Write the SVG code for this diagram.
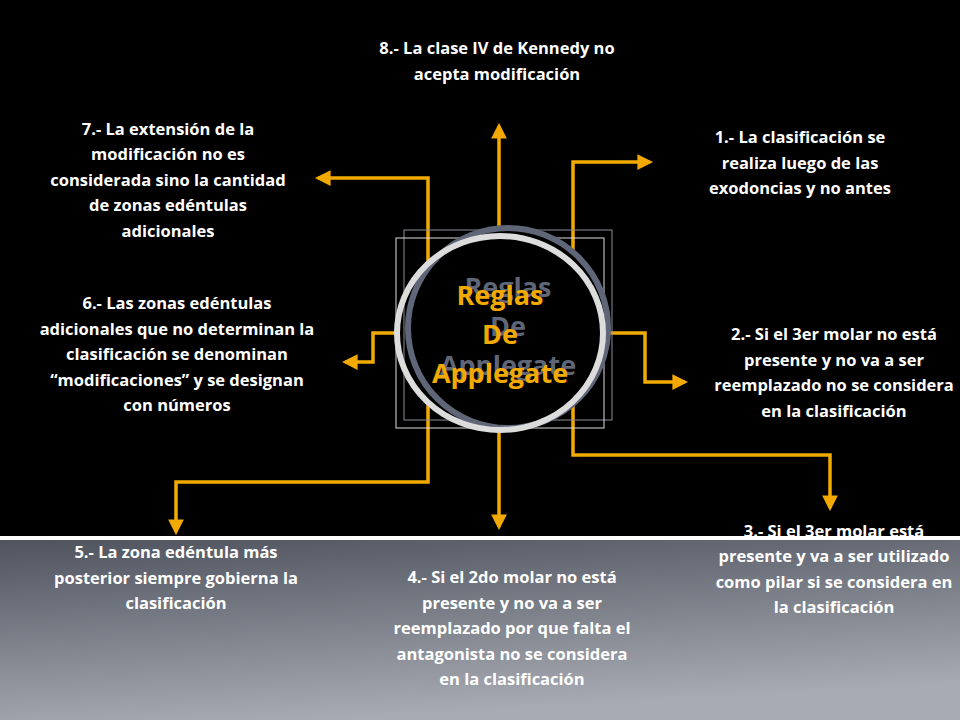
<svg xmlns="http://www.w3.org/2000/svg" width="960" height="720" viewBox="0 0 960 720">
<defs>
<linearGradient id="bg" x1="0" y1="0" x2="0.3" y2="1"><stop offset="0" stop-color="#4e535e"/><stop offset="1" stop-color="#a7aab2"/></linearGradient>
<marker id="ar" viewBox="0 0 10 10" refX="8" refY="5" markerWidth="4.5" markerHeight="4.5" orient="auto"><path d="M0,0L10,5L0,10z" fill="#f2aa00"/></marker>
</defs>
<style>
.c{fill:none;stroke:#f2aa00;stroke-width:3.5;marker-end:url(#ar)}
.t{font-family:"Open Sans","Liberation Sans",sans-serif;font-weight:bold;font-size:16.5px;fill:#fff;text-anchor:middle}
.h{font-family:"Open Sans","Liberation Sans",sans-serif;font-weight:bold;font-size:27px;text-anchor:middle}
</style>
<rect width="960" height="720" fill="#000"/>
<rect y="539" width="960" height="181" fill="url(#bg)"/>
<rect y="536" width="960" height="4" fill="#fff"/>
<g id="connectors">
<path class="c" d="M499,226V126"/>
<path class="c" d="M573,262V162H650"/>
<path class="c" d="M428,262V178H318"/>
<path class="c" d="M396,333H373V362H345"/>
<path class="c" d="M604,333H645V382H685"/>
<path class="c" d="M573,405V455H830V508"/>
<path class="c" d="M499,432V527"/>
<path class="c" d="M428,405V482H176V532"/>
</g>
<g id="center">
<rect x="404" y="230" width="208" height="190" fill="none" stroke="#8a8d94" stroke-width="1"/>
<rect x="396" y="238" width="208" height="190" fill="none" stroke="#ddd" stroke-width="1"/>
<circle cx="508" cy="328" r="100" fill="#000" stroke="#5f6678" stroke-width="6"/>
<ellipse cx="500" cy="333" rx="103" ry="97" fill="none" stroke="#dcdcdc" stroke-width="6"/>
<text class="h" fill="#5f6678"><tspan x="508" y="297">Reglas</tspan><tspan x="508" y="336">De</tspan><tspan x="508" y="375">Applegate</tspan></text>
<text class="h" fill="#f2aa00"><tspan x="500" y="305">Reglas</tspan><tspan x="500" y="344">De</tspan><tspan x="500" y="383">Applegate</tspan></text>
</g>
<g id="n8"><text class="t"><tspan x="497" y="54">8.- La clase IV de Kennedy no</tspan><tspan x="497" y="80">acepta modificación</tspan></text></g>
<g id="n1"><text class="t"><tspan x="800" y="143">1.- La clasificación se</tspan><tspan x="800" y="169">realiza luego de las</tspan><tspan x="800" y="194">exodoncias y no antes</tspan></text></g>
<g id="n7"><text class="t"><tspan x="168" y="135">7.- La extensión de la</tspan><tspan x="168" y="160">modificación no es</tspan><tspan x="168" y="186">considerada sino la cantidad</tspan><tspan x="168" y="211">de zonas edéntulas</tspan><tspan x="168" y="237">adicionales</tspan></text></g>
<g id="n6"><text class="t"><tspan x="177" y="309">6.- Las zonas edéntulas</tspan><tspan x="177" y="335">adicionales que no determinan la</tspan><tspan x="177" y="360">clasificación se denominan</tspan><tspan x="177" y="386">“modificaciones” y se designan</tspan><tspan x="177" y="411">con números</tspan></text></g>
<g id="n2"><text class="t"><tspan x="834" y="340">2.- Si el 3er molar no está</tspan><tspan x="834" y="366">presente y no va a ser</tspan><tspan x="834" y="391">reemplazado no se considera</tspan><tspan x="834" y="417">en la clasificación</tspan></text></g>
<g id="n3"><text class="t"><tspan x="834" y="537">3.- Si el 3er molar está</tspan><tspan x="834" y="562">presente y va a ser utilizado</tspan><tspan x="834" y="588">como pilar si se considera en</tspan><tspan x="834" y="613">la clasificación</tspan></text></g>
<g id="n4"><text class="t"><tspan x="512" y="583">4.- Si el 2do molar no está</tspan><tspan x="512" y="609">presente y no va  a ser</tspan><tspan x="512" y="634">reemplazado  por que falta el</tspan><tspan x="512" y="660">antagonista no se considera</tspan><tspan x="512" y="685">en la clasificación</tspan></text></g>
<g id="n5"><text class="t"><tspan x="176" y="558">5.- La zona edéntula más</tspan><tspan x="176" y="584">posterior siempre gobierna la</tspan><tspan x="176" y="609">clasificación</tspan></text></g>
</svg>
